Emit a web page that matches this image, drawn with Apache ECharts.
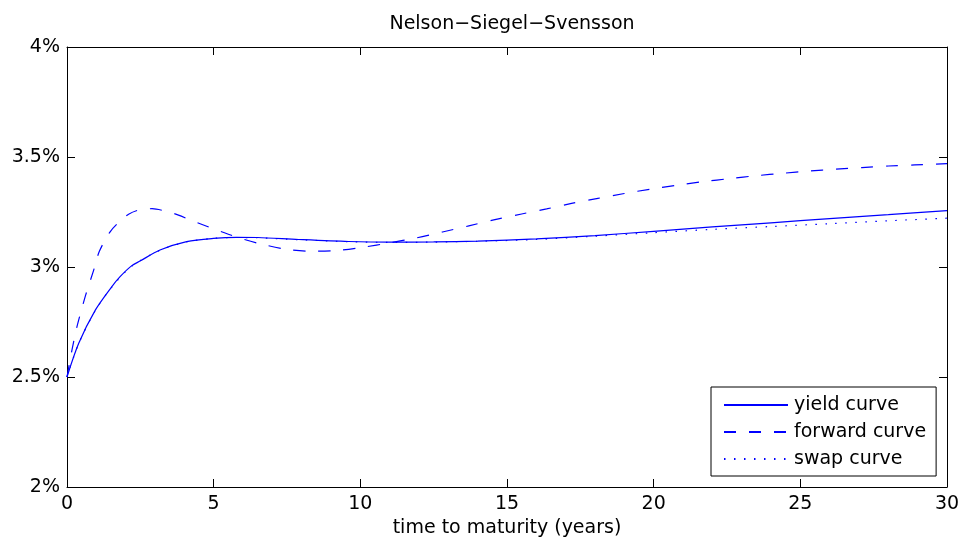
<!DOCTYPE html>
<html>
<head>
<meta charset="utf-8">
<script src="https://cdn.jsdelivr.net/npm/echarts@6/dist/echarts.min.js"></script>
<style>html,body{margin:0;padding:0;background:#fff;overflow:hidden;}#c{width:961px;height:543px;}</style>
</head>
<body>
<div id="c"></div>
<script>
var titleText = 'Nelson\u2212Siegel\u2212Svensson';
var xName = 'time to maturity (years)';
var xTicks = [0, 5, 10, 15, 20, 25, 30];
var yTicks = [2, 2.5, 3, 3.5, 4];
var seriesNames = ['yield curve', 'forward curve', 'swap curve'];

var yieldT = [0, 0.4, 0.97, 1.53, 1.81, 2.2, 2.49, 3.17, 4.08, 4.99, 5.78, 6.5, 7.9, 9.6, 11, 12.5, 14, 16, 18, 20, 22, 24, 26, 28, 30];
var yieldV = [2.5, 2.653, 2.805, 2.911, 2.956, 3.005, 3.027, 3.077, 3.115, 3.130, 3.135, 3.134, 3.125, 3.116, 3.113, 3.114, 3.118, 3.128, 3.143, 3.162, 3.182, 3.201, 3.220, 3.238, 3.256];

var fwdT = [0, 0.17, 0.34, 0.62, 0.91, 1.1, 1.47, 1.81, 2.1, 2.45, 2.9, 3.35, 3.8, 4.2, 4.65, 5.05, 5.5, 6.0, 6.6, 7.5, 8.3, 9.2, 10.1, 11.0, 11.9, 12.8, 13.7, 14.55, 15.5, 16.35, 17.2, 18.1, 19.0, 19.9, 20.8, 21.7, 22.6, 23.5, 24.4, 25.3, 26.2, 27.1, 28.0, 28.9, 30];
var fwdV = [2.5, 2.623, 2.729, 2.865, 2.986, 3.07, 3.160, 3.209, 3.240, 3.259, 3.265, 3.254, 3.236, 3.214, 3.191, 3.171, 3.149, 3.127, 3.105, 3.08, 3.072, 3.075, 3.09, 3.11, 3.132, 3.159, 3.187, 3.214, 3.241, 3.264, 3.289, 3.312, 3.334, 3.354, 3.372, 3.388, 3.402, 3.415, 3.426, 3.436, 3.445, 3.452, 3.459, 3.464, 3.470];

var swapT = [0, 0.4, 0.97, 1.53, 2.2, 3.17, 4.08, 4.99, 5.78, 6.5, 7.9, 9.6, 11, 12.5, 14, 16, 18, 20, 22, 24, 26, 28, 30];
var swapV = [2.5, 2.652, 2.803, 2.909, 3.003, 3.076, 3.114, 3.130, 3.134, 3.133, 3.124, 3.115, 3.112, 3.113, 3.117, 3.125, 3.140, 3.156, 3.171, 3.184, 3.197, 3.210, 3.222];

function pairs(t, v) { return t.map(function (x, i) { return [x, v[i]]; }); }

var FONT = 'DejaVu Sans';
var FS = 19;
var chart = echarts.init(document.getElementById('c'), null, { renderer: 'canvas', width: 961, height: 543 });
var axisCommon = {
  type: 'value',
  axisLine: { show: true, onZero: false, lineStyle: { color: '#000', width: 1 } },
  axisTick: { show: true, inside: true, length: 8, lineStyle: { color: '#000', width: 1 } },
  splitLine: { show: false }
};
chart.setOption({
  animation: false,
  backgroundColor: '#fff',
  title: {
    text: titleText, left: 507, top: 10, textAlign: 'center',
    textStyle: { fontFamily: FONT, fontSize: FS, fontWeight: 'normal', color: '#000' }
  },
  grid: { left: 67, top: 47, width: 880, height: 440, containLabel: false, outerBoundsMode: 'none' },
  legend: {
    orient: 'vertical', left: 711, top: 387,
    data: seriesNames,
    backgroundColor: '#fff',
    borderColor: '#000', borderWidth: 1, borderRadius: 0,
    padding: [8, 10, 7, 12],
    itemWidth: 64, itemHeight: 20, itemGap: 7,
    itemStyle: { opacity: 0 },
    textStyle: { fontFamily: FONT, fontSize: FS, lineHeight: 20, color: '#000', padding: [0, 0, 0, 1] }
  },
  xAxis: [
    Object.assign({}, axisCommon, {
      position: 'bottom', min: xTicks[0], max: xTicks[xTicks.length - 1], interval: 5,
      name: xName, nameLocation: 'middle', nameGap: 32,
      nameTextStyle: { fontFamily: FONT, fontSize: FS, color: '#000' },
      axisLabel: { margin: 8, fontFamily: FONT, fontSize: FS, color: '#000' }
    }),
    Object.assign({}, axisCommon, {
      position: 'top', min: xTicks[0], max: xTicks[xTicks.length - 1], interval: 5,
      axisLabel: { show: false }
    })
  ],
  yAxis: [
    Object.assign({}, axisCommon, {
      position: 'left', min: yTicks[0], max: yTicks[yTicks.length - 1], interval: 0.5,
      axisLabel: { margin: 7, fontFamily: FONT, fontSize: FS, color: '#000',
        formatter: function (v) { return (+v.toFixed(2)) + '%'; } }
    }),
    Object.assign({}, axisCommon, {
      position: 'right', min: yTicks[0], max: yTicks[yTicks.length - 1], interval: 0.5,
      axisLabel: { show: false }
    })
  ],
  series: [
    {
      name: seriesNames[0], type: 'line', data: pairs(yieldT, yieldV), smooth: 0.3,
      showSymbol: false, symbol: 'none', color: '#0000ff',
      lineStyle: { color: '#0000ff', width: 1.2, type: 'solid' }, z: 3
    },
    {
      name: seriesNames[1], type: 'line', data: pairs(fwdT, fwdV), smooth: 0.3,
      showSymbol: false, symbol: 'none', color: '#0000ff',
      lineStyle: { color: '#0000ff', width: 1.2, type: [12, 13] }, z: 3
    },
    {
      name: seriesNames[2], type: 'line', data: pairs(swapT, swapV), smooth: 0.3,
      showSymbol: false, symbol: 'none', color: '#0000ff',
      lineStyle: { color: '#0000ff', width: 1.2, type: [1.5, 8.5] }, z: 2
    }
  ]
});
</script>
</body>
</html>
